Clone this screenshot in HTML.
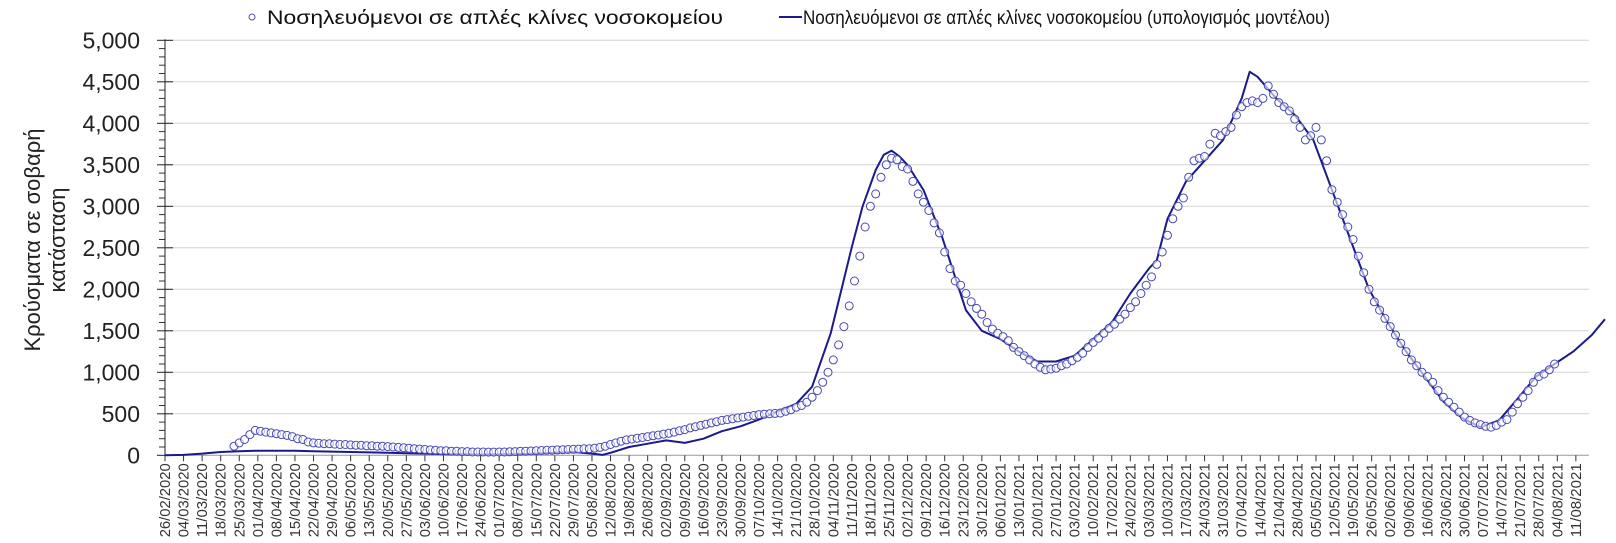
<!DOCTYPE html>
<html><head><meta charset="utf-8">
<style>
html,body{margin:0;padding:0;background:#fff;}
svg{display:block;font-family:"Liberation Sans","DejaVu Sans",sans-serif;}
</style></head>
<body>
<svg id="chart" width="1616" height="543" viewBox="0 0 1616 543">
  <g id="grid"></g>
  <g id="yaxis"></g>
  <g id="xaxis"></g>
  <g id="series"></g>
  <g transform="translate(48,240) rotate(-90)">
    <text x="0" y="-8" text-anchor="middle" font-size="22" fill="#222">Κρούσματα σε σοβαρή</text>
    <text x="0" y="17" text-anchor="middle" font-size="22" fill="#222">κατάσταση</text>
  </g>
  <g>
    <g>
      <circle cx="252" cy="17" r="3" fill="#fff" stroke="#5050b8" stroke-width="1"/>
      <text x="267" y="24" font-size="19" fill="#111" textLength="456" lengthAdjust="spacingAndGlyphs">Νοσηλευόμενοι σε απλές κλίνες νοσοκομείου</text>
    </g>
    <g>
      <line x1="779" y1="17" x2="802" y2="17" stroke="#1a1a8c" stroke-width="2"/>
      <text x="803" y="24" font-size="19" fill="#111" textLength="527" lengthAdjust="spacingAndGlyphs">Νοσηλευόμενοι σε απλές κλίνες νοσοκομείου (υπολογισμός μοντέλου)</text>
    </g>
  </g>
</svg>
<script>
const startDate = [2020, 1, 26];
const yTicks = [0, 500, 1000, 1500, 2000, 2500, 3000, 3500, 4000, 4500, 5000];
const yTickLabels = ["0","500","1,000","1,500","2,000","2,500","3,000","3,500","4,000","4,500","5,000"];
const circleStartDay = 26;
const circleStepDays = 2;
const circleValues = [110,150,190,250,300,290,280,270,260,250,240,225,200,190,160,150,145,140,140,135,130,130,125,120,120,115,115,110,110,105,100,95,90,85,80,75,70,65,60,55,55,50,50,45,45,40,40,40,38,38,40,40,42,45,48,50,52,55,58,60,62,65,68,70,72,75,78,80,85,95,110,130,150,170,185,195,205,215,225,235,245,255,265,280,295,310,330,345,360,375,390,405,420,430,440,450,460,470,480,490,495,500,505,510,530,550,580,600,640,700,780,880,1000,1150,1330,1550,1800,2100,2400,2750,3000,3150,3350,3500,3580,3560,3480,3450,3300,3150,3050,2950,2800,2680,2450,2250,2100,2050,1950,1850,1770,1700,1600,1520,1470,1430,1380,1300,1250,1200,1150,1100,1060,1030,1040,1050,1080,1100,1140,1180,1230,1300,1360,1410,1470,1530,1580,1640,1700,1780,1850,1950,2050,2150,2300,2450,2650,2850,3000,3100,3350,3550,3580,3600,3750,3880,3850,3900,3950,4100,4200,4250,4270,4250,4300,4450,4350,4250,4200,4150,4050,3950,3800,3850,3950,3800,3550,3200,3050,2900,2750,2600,2400,2200,2000,1850,1750,1650,1550,1450,1350,1250,1150,1080,1000,950,880,780,700,640,580,520,460,420,390,370,350,340,360,400,430,520,620,700,780,880,950,980,1030,1100];
const modelDays = [0,7,14,21,28,35,42,49,56,63,70,77,84,91,98,105,112,119,126,133,140,147,154,161,165,168,175,182,189,196,203,210,217,224,231,238,244,251,255,259,263,268,271,274,277,280,286,293,302,308,315,322,329,336,343,350,357,364,371,374,378,385,392,399,406,409,412,419,426,433,440,447,454,461,468,475,482,489,496,503,510,517,524,531,538,543];
const modelValues = [0,5,20,40,50,55,55,55,50,45,40,35,30,25,20,15,12,10,12,15,20,30,40,20,5,30,100,140,180,150,200,290,350,430,530,620,826,1470,1990,2513,2995,3437,3620,3670,3600,3498,3196,2634,1750,1500,1400,1250,1130,1130,1200,1400,1600,1950,2250,2350,2850,3300,3550,3800,4300,4620,4560,4300,4100,3800,3200,2600,2000,1600,1250,950,650,450,340,420,680,950,1100,1250,1450,1640];
const xTickStepDays = 7;
const xTickLastDay = 532;

const NS = "http://www.w3.org/2000/svg";
const X0 = 165, PX_PER_DAY = 2.652, Y0 = 455.3, Y_TOP = 40.3, Y_MAX = 5000, X_END = 1589;
function xScale(day){ return X0 + day * PX_PER_DAY; }
function yScale(v){ return Y0 - (v / Y_MAX) * (Y0 - Y_TOP); }
function mk(tag, attrs, parent){ const e = document.createElementNS(NS, tag); for (const k in attrs) e.setAttribute(k, attrs[k]); parent.appendChild(e); return e; }
function pad(n){ return (n < 10 ? "0" : "") + n; }
function dayLabel(d){ const dt = new Date(Date.UTC(startDate[0], startDate[1], startDate[2] + d)); return pad(dt.getUTCDate()) + "/" + pad(dt.getUTCMonth() + 1) + "/" + dt.getUTCFullYear(); }

const grid = document.getElementById("grid"), yaxis = document.getElementById("yaxis"), xaxis = document.getElementById("xaxis"), series = document.getElementById("series");

yTicks.forEach((v, i) => {
  const y = yScale(v);
  if (v > 0) {
    const g = mk("line", {x1: X0, x2: X_END, y1: y, y2: y, stroke: "#d4d4d4", "stroke-width": 1}, grid);
    
    
  }
  const t = mk("line", {x1: 157, x2: 173, y1: y, y2: y, stroke: "#222", "stroke-width": 1}, yaxis);
  
  
  const lb = mk("text", {x: 140, y: y + 8, "text-anchor": "end", "font-size": 23, fill: "#222"}, yaxis);
  lb.textContent = yTickLabels[i];
  
  
});
for (let v = 100; v < Y_MAX; v += 100) {
  if (v % 500 === 0) continue;
  const y = yScale(v);
  const m = mk("line", {x1: 159, x2: 165, y1: y, y2: y, stroke: "#333", "stroke-width": 1}, yaxis);
  
  
}
const ax = mk("line", {x1: X0, x2: X0, y1: Y_TOP - 1, y2: Y0, stroke: "#222", "stroke-width": 1}, yaxis);


const bx = mk("line", {x1: X0, x2: X_END, y1: Y0, y2: Y0, stroke: "#999", "stroke-width": 1}, xaxis);



for (let d = 0; d <= xTickLastDay; d += xTickStepDays) {
  const x = xScale(d);
  const tk = mk("line", {x1: x, x2: x, y1: Y0, y2: Y0 + 6, stroke: "#333", "stroke-width": 1}, xaxis);
  
  
  const lb = mk("text", {x: 0, y: 0, "text-anchor": "end", "font-size": 14.5, fill: "#333", textLength: 74, lengthAdjust: "spacingAndGlyphs", transform: "translate(" + (x + 5) + "," + (Y0 + 8) + ") rotate(-90)"}, xaxis);
  lb.textContent = dayLabel(d);
  
  
}

let dpath = "";
modelDays.forEach((d, i) => { dpath += (i ? "L" : "M") + xScale(d).toFixed(1) + "," + yScale(modelValues[i]).toFixed(1); });
const line = mk("path", {d: dpath, fill: "none", stroke: "#1a1a8c", "stroke-width": 2, "stroke-linejoin": "round"}, series);



circleValues.forEach((v, i) => {
  const d = circleStartDay + i * circleStepDays;
  const c = mk("circle", {cx: xScale(d).toFixed(1), cy: yScale(v).toFixed(1), r: 4, fill: "#fff", "fill-opacity": 0.6, stroke: "#4848b4", "stroke-width": 1}, series);
  
  
});
</script>
</body></html>
